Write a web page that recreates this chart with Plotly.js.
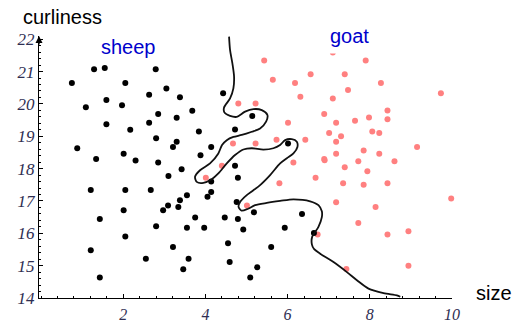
<!DOCTYPE html>
<html>
<head>
<meta charset="utf-8">
<script src="https://cdn.plot.ly/plotly-3.0.1.min.js"></script>
<style>
  html, body { margin: 0; padding: 0; background: #fff; }
  #chart { width: 515px; height: 326px; }
</style>
</head>
<body>
<div id="chart"></div>
<script>
// Sheep samples (size, curliness)
const sheepSize = [0.75,1.29,1.55,2.79,2.05,3.05,2.63,3.38,1.09,1.59,1.97,2.85,3.30,3.68,4.43,5.14,
  1.59,2.17,2.63,2.80,3.30,3.21,3.84,4.14,4.72,4.72,0.88,1.34,2.01,2.30,2.85,3.88,3.42,
  3.10,4.79,4.14,4.14,4.05,3.55,3.38,3.34,3.09,2.97,1.21,2.05,2.67,2.01,1.43,2.05,2.80,
  3.75,3.55,3.97,4.47,4.79,4.92,4.76,5.18,4.55,3.21,1.21,2.55,3.59,3.46,4.59,1.43,5.09,5.26,
  6.35,5.93,6.64,5.60,6.01];
const sheepCurl = [20.65,21.07,21.11,21.07,20.65,20.48,20.28,20.21,19.90,20.12,19.96,19.69,19.57,19.79,20.33,19.63,
  19.37,19.20,19.42,18.94,18.83,18.67,19.15,18.67,19.21,18.09,18.63,18.30,18.46,18.25,18.19,18.41,17.98,
  17.77,17.72,17.60,17.28,17.13,17.18,17.02,16.81,16.86,16.71,17.34,17.34,17.34,16.71,16.44,15.90,16.22,
  16.49,16.17,16.17,16.49,16.44,16.12,16.97,16.65,15.69,15.58,15.48,15.21,15.21,14.89,15.11,14.63,14.63,14.95,
  16.60,16.17,16.01,15.58,18.78];

// Goat samples (size, curliness)
const goatSize = [4.80,5.22,4.67,5.22,4.40,4.01,5.01,
  6.14,6.90,7.72,8.60,7.39,7.94,6.68,5.80,7.35,7.85,8.43,7.18,8.14,9.98,7.72,8.94,8.43,6.73,7.43,8.94,
  5.43,7.10,7.90,5.64,6.18,6.56,7.39,8.27,7.47,6.31,7.10,9.73,8.43,8.43,7.98,6.89,7.18,7.64,6.01,
  7.01,7.30,8.06,8.23,7.18,6.43,5.73,9.15,7.85,7.18,8.23,6.89];
const goatCurl = [20.01,20.01,18.78,18.78,18.09,17.72,16.86,
  18.19,18.26,18.23,18.23,18.04,17.92,17.72,17.55,17.55,17.50,17.55,16.96,16.81,17.08,16.32,16.06,15.96,15.96,14.90,15.00,
  21.34,21.59,21.34,20.75,20.65,20.92,20.92,20.65,20.43,20.22,20.17,20.33,19.80,19.53,19.58,19.69,19.42,19.48,19.42,
  19.10,19.00,19.15,19.10,18.83,18.89,18.89,18.67,18.56,18.46,18.46,18.30];

// Decision boundary between the two classes
const boundX = [4.575,4.599,4.655,4.697,4.680,4.599,4.453,4.460,4.599,4.762,4.965,5.167,5.372,5.508,5.476,5.330,
  5.128,4.884,4.680,4.519,4.404,4.314,4.112,3.868,3.747,3.788,3.949,4.153,4.314,4.519,4.721,4.923,5.128,5.411,
  5.654,5.817,5.939,6.102,6.224,6.239,6.141,5.981,5.817,5.574,5.330,5.167,5.006,4.843,4.806,4.879,5.038,5.208,
  5.493,5.817,6.141,6.548,6.750,6.833,6.833,6.750,6.597,6.590,6.646,6.792,7.116,7.442,7.686,7.968,8.334,8.660,8.741];
const boundY = [22.08,21.67,21.26,20.84,20.48,20.17,19.89,19.74,19.63,19.60,19.76,19.84,19.81,19.66,19.45,19.24,
  19.14,19.04,18.98,18.88,18.73,18.47,18.16,17.95,17.75,17.59,17.56,17.67,17.85,18.16,18.42,18.59,18.63,18.59,
  18.63,18.73,18.88,18.91,18.83,18.67,18.47,18.32,18.16,17.80,17.49,17.33,17.18,16.97,16.82,16.70,16.76,16.87,
  16.94,17.00,17.05,16.99,16.87,16.68,16.50,16.20,15.89,15.66,15.51,15.37,15.11,14.80,14.55,14.29,14.15,14.08,14.04];

const xTicks = [2, 4, 6, 8, 10];
const yTicks = [14, 15, 16, 17, 18, 19, 20, 21, 22];

const tickFont = { family: 'Liberation Serif, Times New Roman, serif', size: 17, color: '#2e2e52', style: 'italic' };
const labelFont = { family: 'Liberation Sans, Arial, sans-serif', size: 20, color: '#000' };

const traces = [
  {
    x: goatSize, y: goatCurl, type: 'scatter', mode: 'markers', name: 'goat',
    marker: { color: '#ff8080', size: 6 }, cliponaxis: false, hoverinfo: 'x+y'
  },
  {
    x: sheepSize, y: sheepCurl, type: 'scatter', mode: 'markers', name: 'sheep',
    marker: { color: '#000', size: 6 }, cliponaxis: false, hoverinfo: 'x+y'
  },
  {
    x: boundX, y: boundY, type: 'scatter', mode: 'lines', name: 'boundary',
    line: { color: '#111', width: 1.8, shape: 'spline', smoothing: 0.8 }, cliponaxis: false
  }
];

const layout = {
  width: 515, height: 326,
  margin: { l: 39, r: 63, t: 36, b: 28 },
  paper_bgcolor: '#fff', plot_bgcolor: '#fff',
  showlegend: false,
  xaxis: {
    range: [-0.05, 10], tickmode: 'array', tickvals: xTicks,
    showgrid: false, zeroline: false,
    showline: true, linecolor: '#000', linewidth: 1.2,
    ticks: 'inside', ticklen: 4, tickcolor: '#000', tickwidth: 1,
    ticklabelstandoff: 2,
    minor: { tickmode: 'linear', tick0: 0, dtick: 0.4, ticks: 'inside', ticklen: 2, tickcolor: '#000', showgrid: false },
    tickfont: Object.assign({}, tickFont, { size: 16 })
  },
  yaxis: {
    range: [14, 22.1], tickmode: 'array', tickvals: yTicks,
    showgrid: false, zeroline: false,
    showline: true, linecolor: '#000', linewidth: 1.2,
    ticks: 'inside', ticklen: 4, tickcolor: '#000', tickwidth: 1,
    minor: { tickmode: 'linear', tick0: 14, dtick: 0.2, ticks: 'inside', ticklen: 2, tickcolor: '#000', showgrid: false },
    tickfont: tickFont
  },
  annotations: [
    // arrowhead at the top of the vertical axis
    { xref: 'paper', yref: 'paper', x: 0, y: 1.0, ax: 0, ay: 10, text: '', showarrow: true,
      arrowhead: 2, arrowsize: 1, arrowwidth: 1.4, arrowcolor: '#000', standoff: 0 },
    { xref: 'paper', yref: 'paper', x: 0.058, y: 1.074, text: 'curliness', showarrow: false,
      xanchor: 'center', yanchor: 'middle', font: labelFont },
    { xref: 'paper', yref: 'paper', x: 1.102, y: 0.02, text: 'size', showarrow: false,
      xanchor: 'center', yanchor: 'middle', font: labelFont },
    { xref: 'paper', yref: 'paper', x: 0.217, y: 0.957, text: 'sheep', showarrow: false,
      xanchor: 'center', yanchor: 'middle', font: { family: labelFont.family, size: 20, color: '#0000cc' } },
    { xref: 'paper', yref: 'paper', x: 0.753, y: 1.0, text: 'goat', showarrow: false,
      xanchor: 'center', yanchor: 'middle', bgcolor: '#fff', borderpad: 6,
      font: { family: labelFont.family, size: 20, color: '#0000cc' } }
  ]
};

Plotly.newPlot('chart', traces, layout, { staticPlot: true, displayModeBar: false });
</script>
</body>
</html>
